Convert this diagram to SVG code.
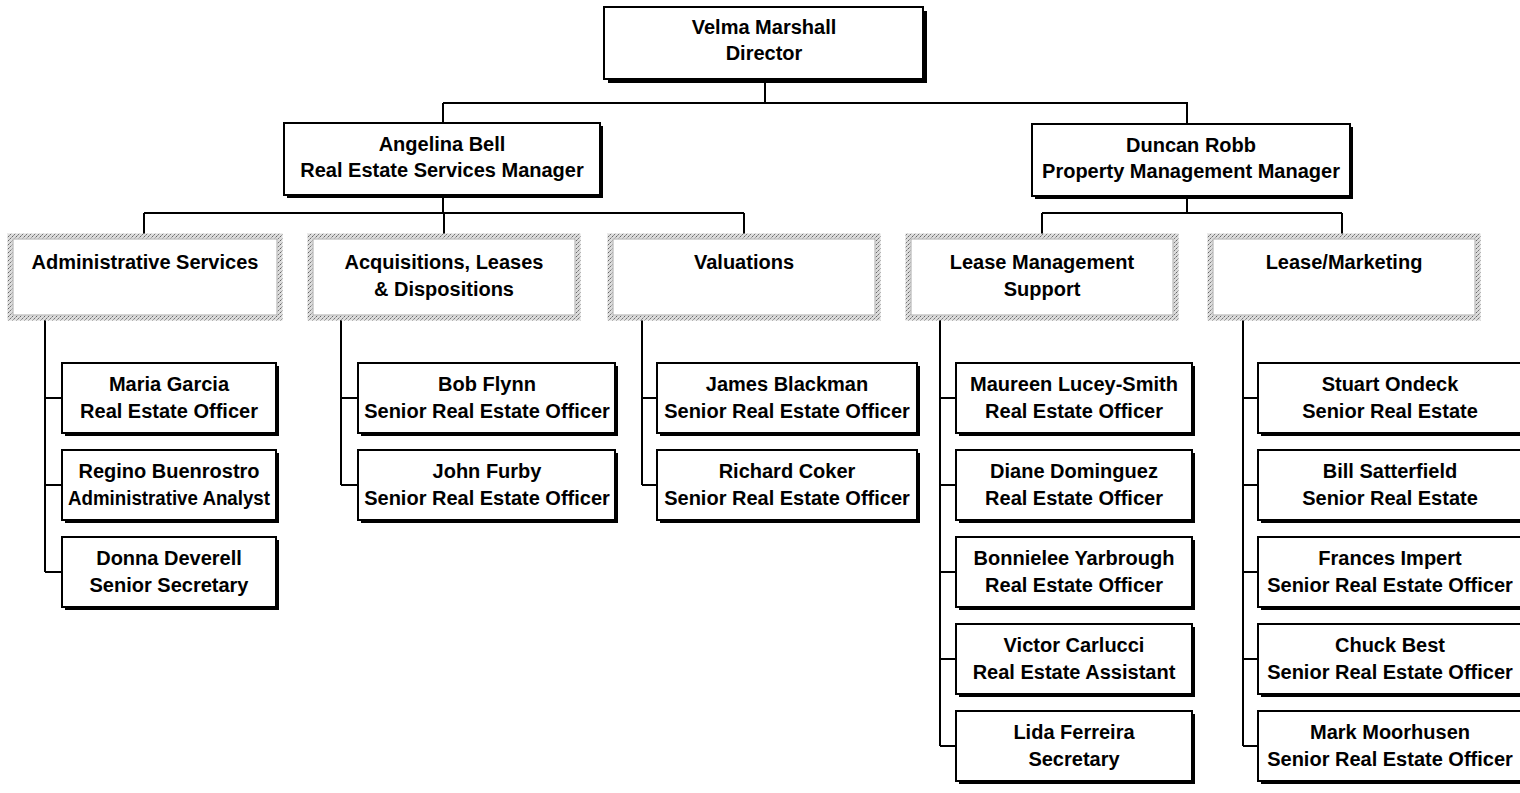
<svg xmlns="http://www.w3.org/2000/svg" width="1520" height="793" viewBox="0 0 1520 793">
<defs>
<pattern id="stip" width="4" height="4" patternUnits="userSpaceOnUse">
<rect width="4" height="4" fill="#dcdcdc"/>
<rect x="0" y="0" width="1" height="1" fill="#666"/>
<rect x="2" y="2" width="1" height="1" fill="#777"/>
<rect x="1" y="3" width="1" height="1" fill="#999"/>
<rect x="3" y="1" width="1" height="1" fill="#aaa"/>
</pattern>
</defs>
<style>
text{font-family:"Liberation Sans",Arial,sans-serif;font-weight:bold;font-size:20px;fill:#000;text-anchor:middle}
.box{fill:#fff;stroke:#000;stroke-width:2}
.sh{fill:#000}
.dept{fill:#fff;stroke:url(#stip);stroke-width:5}
.dept2{fill:none;stroke:#aaa;stroke-width:1}
.conn{fill:none;stroke:#000;stroke-width:2}
</style>
<rect width="1520" height="793" fill="#fff"/>
<g id="connectors" class="conn">
<path d="M765 80V103M443 103H1187V124M443 103V123"/>
<path d="M443 196V213M144 213H744M144 213V236M444 213V236M744 213V236"/>
<path d="M1187 197V213M1042 213H1342M1042 213V236M1342 213V236"/>
<path d="M45 318V572M45 398H62M45 485H62M45 572H62"/>
<path d="M341 318V485M341 398H358M341 485H358"/>
<path d="M642 318V485M642 398H657M642 485H657"/>
<path d="M940 318V746M940 398H956M940 485H956M940 572H956M940 659H956M940 746H956"/>
<path d="M1243 318V746M1243 398H1258M1243 485H1258M1243 572H1258M1243 659H1258M1243 746H1258"/>
</g>
<g id="director"><rect class="sh" x="608" y="11" width="319" height="72"/><rect class="box" x="604" y="7" width="319" height="72"/><text x="764" y="34">Velma Marshall</text><text x="764" y="60">Director</text></g>
<g id="bell"><rect class="sh" x="287" y="126" width="316" height="72"/><rect class="box" x="284" y="123" width="316" height="72"/><text x="442" y="151">Angelina Bell</text><text x="442" y="177">Real Estate Services Manager</text></g>
<g id="robb"><rect class="sh" x="1035" y="127" width="318" height="72"/><rect class="box" x="1032" y="124" width="318" height="72"/><text x="1191" y="152">Duncan Robb</text><text x="1191" y="178">Property Management Manager</text></g>
<g id="dept-admin"><rect class="dept" x="10" y="236" width="270" height="82"/><rect class="dept2" x="13" y="239" width="264" height="76"/><text x="145" y="269">Administrative Services</text></g>
<g id="dept-acq"><rect class="dept" x="310" y="236" width="268" height="82"/><rect class="dept2" x="313" y="239" width="262" height="76"/><text x="444" y="269">Acquisitions, Leases</text><text x="444" y="296">&amp; Dispositions</text></g>
<g id="dept-val"><rect class="dept" x="610" y="236" width="268" height="82"/><rect class="dept2" x="613" y="239" width="262" height="76"/><text x="744" y="269">Valuations</text></g>
<g id="dept-lms"><rect class="dept" x="908" y="236" width="268" height="82"/><rect class="dept2" x="911" y="239" width="262" height="76"/><text x="1042" y="269">Lease Management</text><text x="1042" y="296">Support</text></g>
<g id="dept-lm"><rect class="dept" x="1210" y="236" width="268" height="82"/><rect class="dept2" x="1213" y="239" width="262" height="76"/><text x="1344" y="269">Lease/Marketing</text></g>
<g id="garcia"><rect class="sh" x="65" y="366" width="214" height="70"/><rect class="box" x="62" y="363" width="214" height="70"/><text x="169" y="391">Maria Garcia</text><text x="169" y="418">Real Estate Officer</text></g>
<g id="buenrostro"><rect class="sh" x="65" y="453" width="214" height="70"/><rect class="box" x="62" y="450" width="214" height="70"/><text x="169" y="478">Regino Buenrostro</text><text x="169" y="505" textLength="202" lengthAdjust="spacingAndGlyphs">Administrative Analyst</text></g>
<g id="deverell"><rect class="sh" x="65" y="540" width="214" height="70"/><rect class="box" x="62" y="537" width="214" height="70"/><text x="169" y="565">Donna Deverell</text><text x="169" y="592">Senior Secretary</text></g>
<g id="flynn"><rect class="sh" x="361" y="366" width="257" height="70"/><rect class="box" x="358" y="363" width="257" height="70"/><text x="487" y="391">Bob Flynn</text><text x="487" y="418">Senior Real Estate Officer</text></g>
<g id="furby"><rect class="sh" x="361" y="453" width="257" height="70"/><rect class="box" x="358" y="450" width="257" height="70"/><text x="487" y="478">John Furby</text><text x="487" y="505">Senior Real Estate Officer</text></g>
<g id="blackman"><rect class="sh" x="660" y="366" width="260" height="70"/><rect class="box" x="657" y="363" width="260" height="70"/><text x="787" y="391">James Blackman</text><text x="787" y="418">Senior Real Estate Officer</text></g>
<g id="coker"><rect class="sh" x="660" y="453" width="260" height="70"/><rect class="box" x="657" y="450" width="260" height="70"/><text x="787" y="478">Richard Coker</text><text x="787" y="505">Senior Real Estate Officer</text></g>
<g id="lucey-smith"><rect class="sh" x="959" y="366" width="236" height="70"/><rect class="box" x="956" y="363" width="236" height="70"/><text x="1074" y="391">Maureen Lucey-Smith</text><text x="1074" y="418">Real Estate Officer</text></g>
<g id="dominguez"><rect class="sh" x="959" y="453" width="236" height="70"/><rect class="box" x="956" y="450" width="236" height="70"/><text x="1074" y="478">Diane Dominguez</text><text x="1074" y="505">Real Estate Officer</text></g>
<g id="yarbrough"><rect class="sh" x="959" y="540" width="236" height="70"/><rect class="box" x="956" y="537" width="236" height="70"/><text x="1074" y="565">Bonnielee Yarbrough</text><text x="1074" y="592">Real Estate Officer</text></g>
<g id="carlucci"><rect class="sh" x="959" y="627" width="236" height="70"/><rect class="box" x="956" y="624" width="236" height="70"/><text x="1074" y="652">Victor Carlucci</text><text x="1074" y="679">Real Estate Assistant</text></g>
<g id="ferreira"><rect class="sh" x="959" y="714" width="236" height="70"/><rect class="box" x="956" y="711" width="236" height="70"/><text x="1074" y="739">Lida Ferreira</text><text x="1074" y="766">Secretary</text></g>
<g id="ondeck"><rect class="sh" x="1261" y="366" width="264" height="70"/><rect class="box" x="1258" y="363" width="264" height="70"/><text x="1390" y="391">Stuart Ondeck</text><text x="1390" y="418">Senior Real Estate</text></g>
<g id="satterfield"><rect class="sh" x="1261" y="453" width="264" height="70"/><rect class="box" x="1258" y="450" width="264" height="70"/><text x="1390" y="478">Bill Satterfield</text><text x="1390" y="505">Senior Real Estate</text></g>
<g id="impert"><rect class="sh" x="1261" y="540" width="264" height="70"/><rect class="box" x="1258" y="537" width="264" height="70"/><text x="1390" y="565">Frances Impert</text><text x="1390" y="592">Senior Real Estate Officer</text></g>
<g id="best"><rect class="sh" x="1261" y="627" width="264" height="70"/><rect class="box" x="1258" y="624" width="264" height="70"/><text x="1390" y="652">Chuck Best</text><text x="1390" y="679">Senior Real Estate Officer</text></g>
<g id="moorhusen"><rect class="sh" x="1261" y="714" width="264" height="70"/><rect class="box" x="1258" y="711" width="264" height="70"/><text x="1390" y="739">Mark Moorhusen</text><text x="1390" y="766">Senior Real Estate Officer</text></g>
</svg>
